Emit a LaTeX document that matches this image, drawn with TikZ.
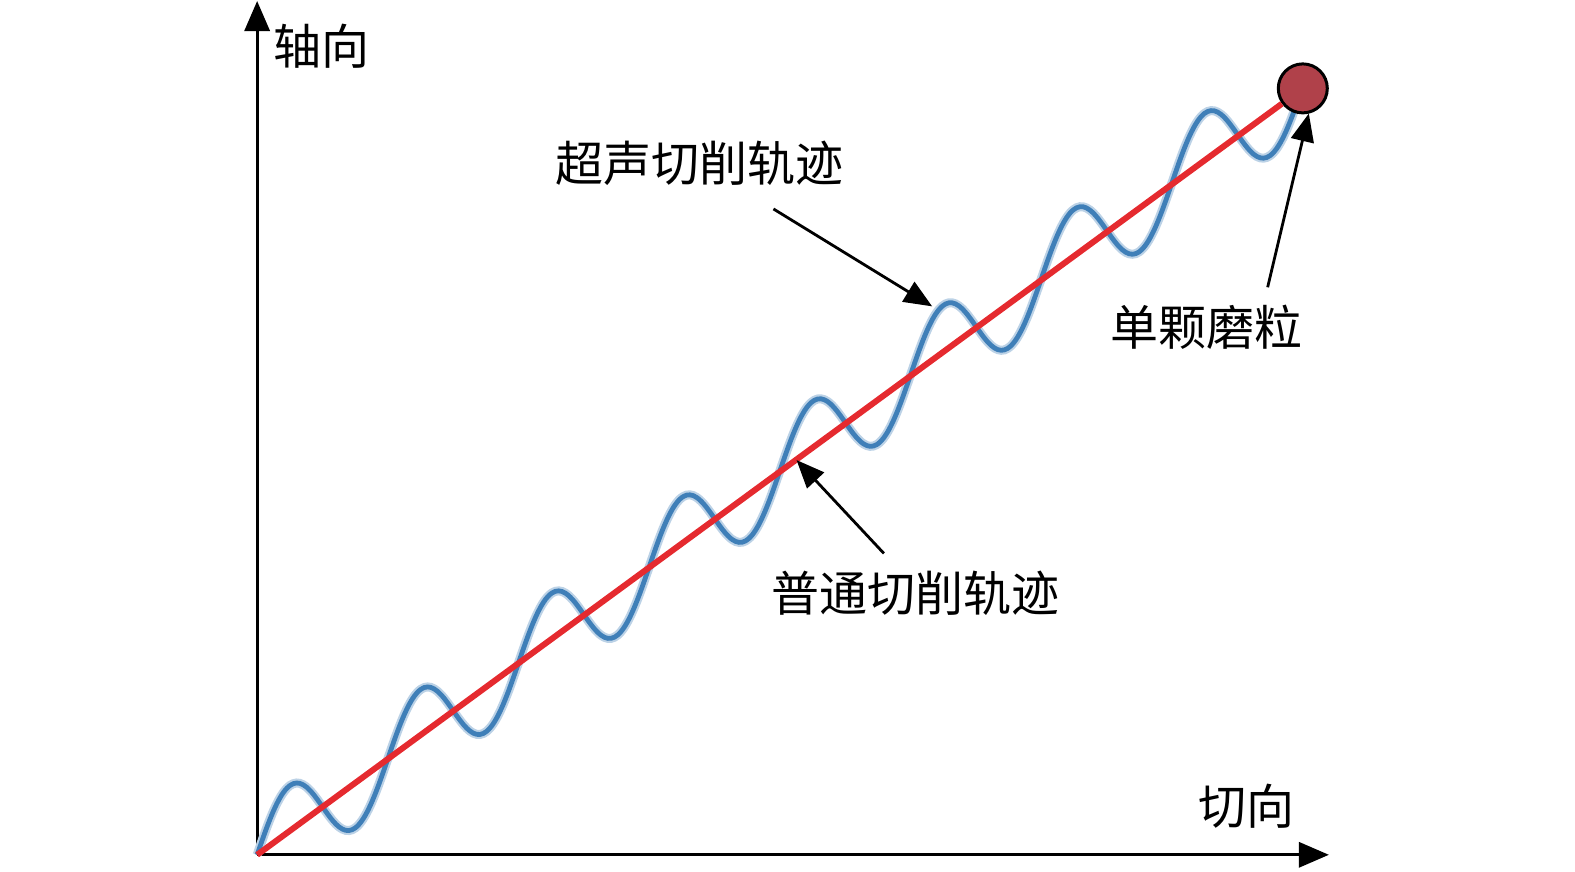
\documentclass[tikz,border=0pt]{standalone}
\usepackage{fontspec}
\setmainfont{Noto Sans CJK SC}
\usetikzlibrary{arrows.meta}
\definecolor{trackred}{HTML}{E52A2F}
\definecolor{wavebl}{HTML}{3F7FB8}
\definecolor{grainred}{HTML}{B0414A}
\tikzset{
  axis/.style={line width=1.6pt, -{Triangle[length=15pt,width=12.5pt]}},
  pointer/.style={line width=1.4pt, -{Triangle[length=14pt,width=11.5pt]}},
  lbl/.style={font=\fontsize{24}{29}\selectfont, inner sep=0pt}
}
\begin{document}
\begin{tikzpicture}[x=0.50223pt, y=0.50223pt]
  \useasboundingbox (0,0) rectangle (1568,868);
  \coordinate (o) at (256,17);
  \coordinate (ytip) at (256,867);
  \coordinate (xtip) at (1323,17);
  % axes
  \draw[axis] (o) -- (ytip);
  \draw[axis] (o) -- (xtip);
  \node[lbl] (ax) at (320,822) {轴向};
  \node[lbl] (tg) at (1241,65) {切向};
  % ultrasonic track
  \draw[wavebl!35, line width=4.5pt] plot[domain=0:1041, samples=320, smooth]
    ({256+\x},{17+0.7349*\x+45*sin(\x/130.125*360)});
  \draw[wavebl, line width=2.4pt] plot[domain=0:1041, samples=320, smooth]
    ({256+\x},{17+0.7349*\x+45*sin(\x/130.125*360)});
  % normal track and grain
  \node[draw, circle, line width=1.5pt, fill=grainred, minimum size=24.5pt, inner sep=0pt] (g) at (1297,780) {};
  \draw[trackred, line width=3pt] (o) -- (g);
  % labels
  \node[lbl] (us) at (696,705) {超声切削轨迹};
  \node[lbl] (gr) at (1201,542) {单颗磨粒};
  \node[lbl] (nm) at (911,277) {普通切削轨迹};
  \coordinate (usa) at (770,660);
  \coordinate (ust) at (928,563);
  \coordinate (nma) at (880,317);
  \coordinate (nmt) at (793,410);
  \coordinate (gra) at (1262,582);
  \coordinate (grt) at (1303,755);
  \draw[pointer] (usa) -- (ust);
  \draw[pointer] (nma) -- (nmt);
  \draw[pointer] (gra) -- (grt);
\end{tikzpicture}
\end{document}
